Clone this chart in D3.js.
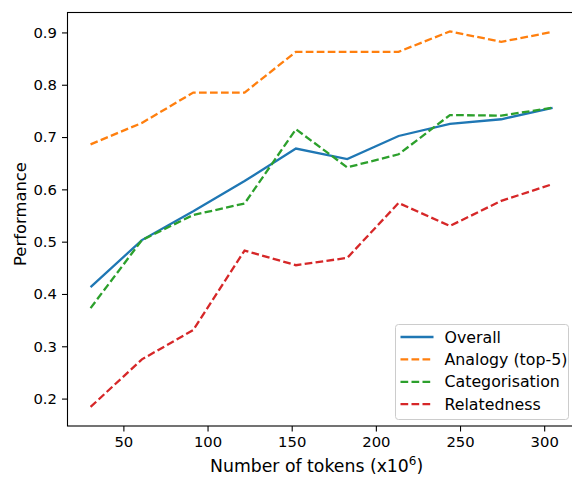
<!DOCTYPE html>
<html>
<head>
<meta charset="utf-8">
<script src="https://cdn.jsdelivr.net/npm/d3@7"></script>
<style>
  body { margin: 0; background: #fff; }
  text { font-family: "DejaVu Sans", sans-serif; fill: #000; }
</style>
</head>
<body>
<div id="wrap"></div>
<script>
var tokens = [30.5, 61, 91.5, 122, 152.5, 183, 213.5, 244, 274.5, 305];
var overall = [0.413, 0.503, 0.558, 0.616, 0.678, 0.658, 0.702, 0.725, 0.734, 0.756];
var analogy = [0.686, 0.727, 0.785, 0.785, 0.863, 0.863, 0.863, 0.902, 0.882, 0.901];
var categorisation = [0.373, 0.503, 0.551, 0.573, 0.715, 0.642, 0.667, 0.742, 0.741, 0.756];
var relatedness = [0.184, 0.275, 0.331, 0.483, 0.455, 0.469, 0.574, 0.530, 0.578, 0.610];
var xTicks = [50, 100, 150, 200, 250, 300];
var yTicks = [0.2, 0.3, 0.4, 0.5, 0.6, 0.7, 0.8, 0.9];

var series = [
  {name: 'Overall', values: overall, color: '#1f77b4', dash: null},
  {name: 'Analogy (top-5)', values: analogy, color: '#ff7f0e', dash: '7.7,3.3'},
  {name: 'Categorisation', values: categorisation, color: '#2ca02c', dash: '7.7,3.3'},
  {name: 'Relatedness', values: relatedness, color: '#d62728', dash: '7.7,3.3'}
];

var W = 572, H = 477;
var margin = {top: 12.5, left: 67.5, bottom: 51, right: -4.5},
    width = W - margin.left - margin.right,
    height = H - margin.top - margin.bottom;

var svg = d3.select('#wrap').append('svg')
      .attr('width', W)
      .attr('height', H);
var g = svg.append('g')
      .attr('transform', 'translate(' + margin.left + ',' + margin.top + ')');

//scales
var x = d3.scaleLinear().domain([16.8, 319.2]).range([0, width]);
var y = d3.scaleLinear().domain([0.1476, 0.9381]).range([height, 0]);

g.append('clipPath').attr('id', 'clip')
  .append('rect').attr('width', width).attr('height', height);

//axes
var xAxis = g.append('g')
  .attr('transform', 'translate(0,' + height + ')')
  .call(d3.axisBottom(x).tickValues(xTicks).tickSize(5.5).tickPadding(4.5).tickFormat(d3.format('d')));
var yAxis = g.append('g')
  .call(d3.axisLeft(y).tickValues(yTicks).tickSize(5.5).tickPadding(5).tickFormat(d3.format('.1f')));
[xAxis, yAxis].forEach(function(a) {
  a.select('.domain').remove();
  a.selectAll('text').style('font-size', '14.8px').style('font-family', '"DejaVu Sans", sans-serif');
  a.selectAll('line').attr('stroke', '#000').attr('stroke-width', 1.1);
});

//lines
var line = d3.line()
  .x(function(d, i) { return x(tokens[i]); })
  .y(function(d) { return y(d); });

g.append('g').attr('clip-path', 'url(#clip)')
  .selectAll('path')
  .data(series)
  .enter().append('path')
    .attr('d', function(d) { return line(d.values); })
    .attr('fill', 'none')
    .attr('stroke', function(d) { return d.color; })
    .attr('stroke-width', 2.3)
    .attr('stroke-dasharray', function(d) { return d.dash; });

//frame
g.append('rect')
  .attr('width', width).attr('height', height)
  .attr('fill', 'none').attr('stroke', '#000').attr('stroke-width', 1.1);

//axis labels
var xlab = svg.append('text')
  .attr('x', 210).attr('y', 472)
  .style('font-size', '17.3px')
  .text('Number of tokens (x10');
xlab.append('tspan').attr('dy', -7.5).style('font-size', '12px').text('6');
xlab.append('tspan').attr('dy', 7.5).text(')');

svg.append('text')
  .attr('transform', 'translate(25.5,214) rotate(-90)')
  .attr('text-anchor', 'middle')
  .style('font-size', '16.4px')
  .text('Performance');

//legend
var legend = svg.append('g').attr('transform', 'translate(395.5,324.5)');
legend.append('rect')
  .attr('width', 173).attr('height', 95).attr('rx', 3)
  .attr('fill', '#fff').attr('fill-opacity', 0.8)
  .attr('stroke', '#ccc').attr('stroke-width', 1);
var item = legend.selectAll('.item')
  .data(series)
  .enter().append('g')
    .attr('class', 'item')
    .attr('transform', function(d, i) { return 'translate(0,' + (12.5 + i * 22.4) + ')'; });
item.append('line')
  .attr('x1', 5).attr('x2', 38)
  .attr('stroke', function(d) { return d.color; })
  .attr('stroke-width', 2.3)
  .attr('stroke-dasharray', function(d) { return d.dash; });
item.append('text')
  .attr('x', 49).attr('dy', '0.35em')
  .style('font-size', '15.8px')
  .text(function(d) { return d.name; });
</script>
</body>
</html>
